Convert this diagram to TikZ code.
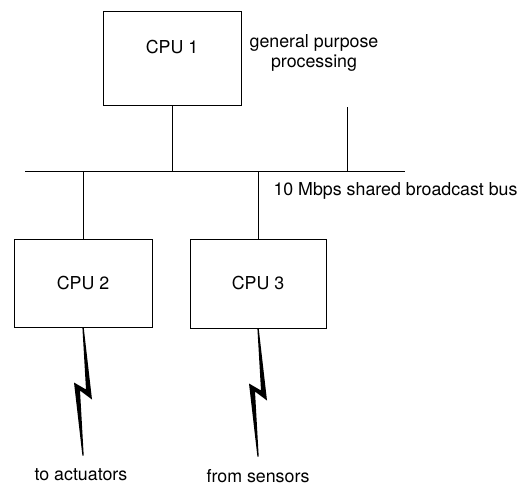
\documentclass[tikz,border=0pt]{standalone}
\usepackage{fontspec}
\setmainfont{TeX Gyre Heros}
\begin{document}
\begin{tikzpicture}[x=1pt,y=-1pt,
  line width=1pt,
  cpubox/.style={draw, rectangle, inner sep=0pt},
  txt/.style={font=\fontsize{17.8}{20}\selectfont, inner sep=0pt},
  zap/.pic={
    % tapered zig-zag link symbol, drawn downward from its origin
    \fill (-0.6,0) -- (0.7,0) -- (9,72) -- (-3,63) -- (0.7,128) -- (-0.6,128)
          -- (-9,55) -- (3,62) -- cycle;
  }]
\useasboundingbox (0,0) rectangle (519,488);

% processors
\node[cpubox, minimum width=138pt, minimum height=94pt] (cpu1) at (172,58) {};
\node[txt] (cpu1txt) at (172,47) {CPU 1};
\node[cpubox, minimum width=138pt, minimum height=88pt, txt] (cpu2) at (83,283) {CPU 2};
\node[cpubox, minimum width=136pt, minimum height=89pt, txt] (cpu3) at (258,283.5) {CPU 3};

% shared bus
\coordinate (busL) at (25,171);
\coordinate (busR) at (405,171);
\coordinate (stub) at (347,107);
\draw (busL) -- (busR);
\draw (cpu1.south) -- (cpu1.south |- busL);
\draw (stub) -- (stub |- busL);
\draw (cpu2.north) -- (cpu2.north |- busL);
\draw (cpu3.north) -- (cpu3.north |- busL);

% labels
\node[txt, align=center] (gp) at (314,53) {general purpose\\processing};
\node[txt, anchor=west] (bus) at (273,191) {10 Mbps shared broadcast bus};

% field links
\pic at (cpu2.south) {zap};
\pic at (cpu3.south) {zap};
\node[txt] (act) at (81,475) {to actuators};
\node[txt] (sens) at (258,476) {from sensors};
\end{tikzpicture}
\end{document}
